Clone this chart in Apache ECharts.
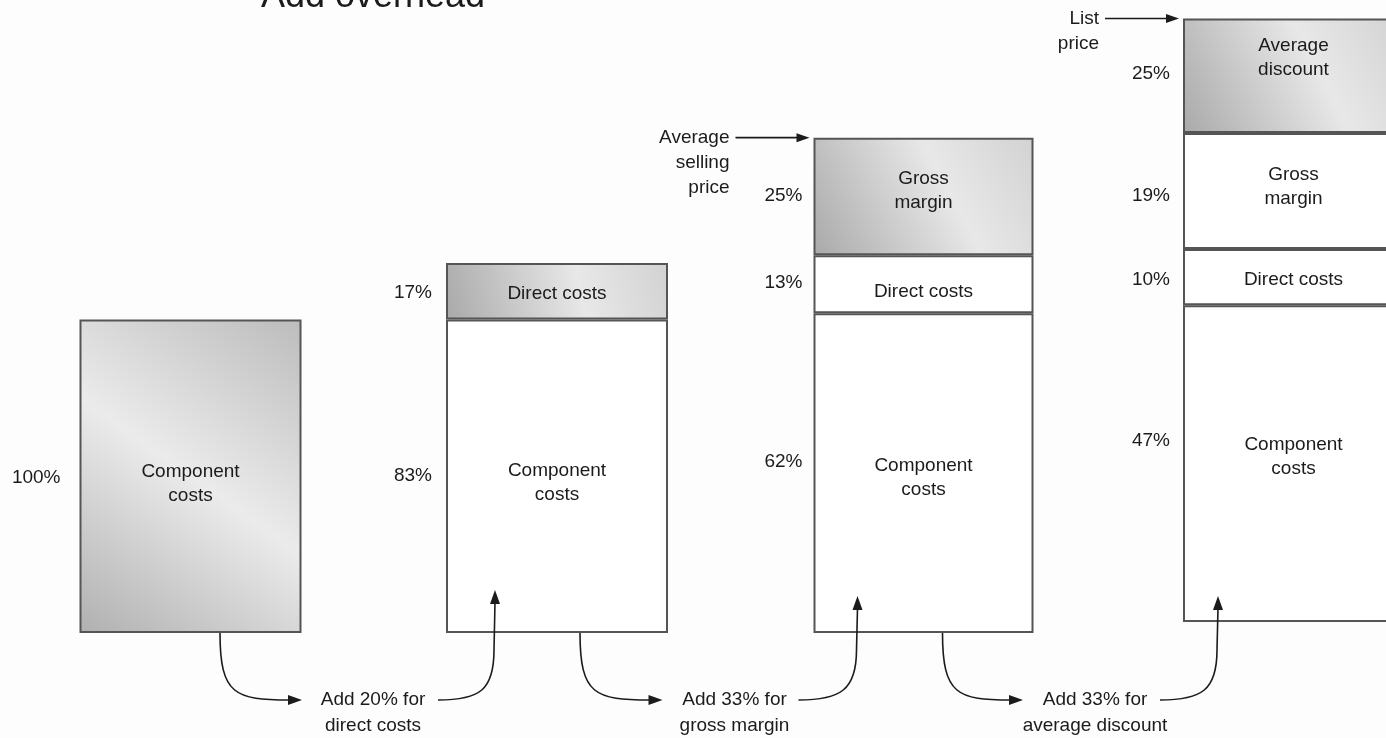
<!DOCTYPE html>
<html>
<head>
<meta charset="utf-8">
<script src="https://cdn.jsdelivr.net/npm/echarts@6/dist/echarts.min.js"></script>
<style>
  html, body { margin: 0; padding: 0; background: #fdfdfd; }
  #chart { width: 1386px; height: 738px; }
</style>
</head>
<body>
<div id="chart"></div>
<script>
// Price build-up, one stacked bar per stage
const stages = ['Component costs', 'Plus direct costs', 'Average selling price', 'List price'];

// Segment heights per stage (component costs of the first stage = 100)
const componentCosts = [100, 100, 102, 101];
const directCosts = [0, 18, 18.5, 18];
const grossMargin = [0, 0, 37.5, 37];
const averageDiscount = [0, 0, 0, 36.5];

// Share of the stage total printed beside each segment
const componentShare = ['100%', '83%', '62%', '47%'];
const directShare = ['', '17%', '13%', '10%'];
const marginShare = ['', '', '25%', '19%'];
const discountShare = ['', '', '', '25%'];

// Notes on the steps between stages
const stepNotes = ['Add 20% for\ndirect costs', 'Add 33% for\ngross margin', 'Add 33% for\naverage discount'];
const priceMarks = ['', '', 'Average\nselling\nprice', 'List\nprice'];
const titleText = 'Add overhead';

// ---------- layout & style ----------
const FONT = '"Liberation Sans", Arial, Helvetica, sans-serif';
const INK = '#1b1b1b';
const EDGE = '#555555';
const UNIT_MAX = 195;
const PX_PER_UNIT = 3.135;

// bar frame: left edge, width, baseline, gap to the share label
const frames = [
  { left: 79.5, width: 222, base: 633, gap: 19 },
  { left: 446, width: 222, base: 633, gap: 14 },
  { left: 813.5, width: 220, base: 633, gap: 11 },
  { left: 1183, width: 221, base: 622, gap: 13 }
];

const layers = [
  { name: 'Component costs', text: 'Component\ncosts', values: componentCosts, shares: componentShare },
  { name: 'Direct costs', text: 'Direct costs', values: directCosts, shares: directShare },
  { name: 'Gross margin', text: 'Gross\nmargin', values: grossMargin, shares: marginShare },
  { name: 'Average discount', text: 'Average\ndiscount', values: averageDiscount, shares: discountShare }
];

// vertical nudges for labels, [layer][stage]
const insideDy = [[8, 7, 5, -7], [0, 2, 8, 3], [0, 0, -6, -4], [0, 0, 0, -18]];
const shareDy = [[2, 0, -11, -23], [0, 1, -1, 3], [0, 0, -1, 5], [0, 0, 0, -2]];

function shade(tall) {
  return tall
    ? new echarts.graphic.LinearGradient(1, 0, 0, 1, [
        { offset: 0, color: '#bcbcbc' },
        { offset: 0.5, color: '#ebebeb' },
        { offset: 1, color: '#b0b0b0' }
      ])
    : new echarts.graphic.LinearGradient(0, 1, 1, 0, [
        { offset: 0, color: '#a9a9a9' },
        { offset: 0.6, color: '#e8e8e8' },
        { offset: 1, color: '#d2d2d2' }
      ]);
}

const grid = [], xAxis = [], yAxis = [], series = [];
frames.forEach((f, s) => {
  grid.push({
    left: f.left, width: f.width, bottom: 738 - f.base, height: UNIT_MAX * PX_PER_UNIT,
    outerBoundsMode: 'none', containLabel: false
  });
  xAxis.push({ gridIndex: s, type: 'category', data: [stages[s]], show: false });
  yAxis.push({ gridIndex: s, type: 'value', min: 0, max: UNIT_MAX, show: false });

  const present = layers.map((l, k) => k).filter(k => layers[k].values[s] > 0);
  const topLayer = present[present.length - 1];
  present.forEach(k => {
    const L = layers[k];
    series.push({
      type: 'bar', name: L.name, xAxisIndex: s, yAxisIndex: s, stack: 'cost' + s,
      barWidth: '100%', barGap: '-100%', silent: true,
      data: [L.values[s]],
      itemStyle: {
        color: k === topLayer ? shade(s === 0) : '#ffffff',
        borderColor: EDGE, borderWidth: 2
      },
      label: {
        show: true, position: 'inside', formatter: L.text, offset: [0, insideDy[k][s]],
        color: INK, fontFamily: FONT, fontSize: 19, lineHeight: 24
      }
    });
    series.push({
      type: 'bar', xAxisIndex: s, yAxisIndex: s, stack: 'share' + s,
      barWidth: '100%', barGap: '-100%', silent: true, z: 1,
      data: [L.values[s]],
      itemStyle: { color: 'rgba(0,0,0,0)' },
      label: {
        show: true, position: 'left', distance: f.gap, formatter: L.shares[s],
        offset: [0, shareDy[k][s]], color: INK, fontFamily: FONT, fontSize: 19
      }
    });
  });
});

const chart = echarts.init(document.getElementById('chart'));
chart.setOption({
  backgroundColor: '#fdfdfd',
  animation: false,
  grid, xAxis, yAxis, series
});

// ---------- annotations: title, price marks, step arrows ----------
const totals = stages.map((_, s) => layers.reduce((a, L) => a + L.values[s], 0));
const topY = s => chart.convertToPixel({ gridIndex: s }, [0, totals[s]])[1];
const baseY = s => chart.convertToPixel({ gridIndex: s }, [0, 0])[1];

const Z = 20;
const txt = (x, y, text, align, extra) => ({
  type: 'text', x, y, z: Z, silent: true,
  style: Object.assign({
    text, fill: INK, fontFamily: FONT, fontSize: 19, lineHeight: 25,
    align, textAlign: align, verticalAlign: 'top', textVerticalAlign: 'top'
  }, extra || {})
});
const stroke = { stroke: INK, lineWidth: 1.6, fill: null };
const head = (pts) => ({ type: 'polygon', z: Z, silent: true, shape: { points: pts }, style: { fill: INK } });

const elements = [];

elements.push(txt(373, -2.5, titleText, 'center', { fontSize: 36, verticalAlign: 'middle', textVerticalAlign: 'middle' }));

// price marks pointing at the top of a stage
priceMarks.forEach((m, s) => {
  if (!m) return;
  const y = topY(s);
  const left = frames[s].left;
  elements.push(txt(left - 84, y - 12.5, m, 'right'));
  elements.push({ type: 'line', z: Z, silent: true, shape: { x1: left - 78, y1: y, x2: left - 16, y2: y }, style: stroke });
  elements.push(head([[left - 4, y], [left - 17, y - 4.5], [left - 17, y + 4.5]]));
});

// step arrows between stages
const steps = [
  { from: 140.5, tip1: -144, note: -73, out: -8, tip2: 49, tipY: 590 },
  { from: 134, tip1: -151, note: -79, out: -15, tip2: 44, tipY: 596 },
  { from: 129, tip1: -160, note: -88, out: -23, tip2: 35, tipY: 596 }
];
const rowY = 700;
steps.forEach((st, t) => {
  const a = frames[t], b = frames[t + 1];
  const sx = a.left + st.from, sy = baseY(t);
  const t1 = b.left + st.tip1;
  elements.push({
    type: 'bezierCurve', z: Z, silent: true,
    shape: { x1: sx, y1: sy, cpx1: sx, cpy1: rowY - 5, cpx2: sx + 15, cpy2: rowY, x2: t1 - 12, y2: rowY },
    style: stroke
  });
  elements.push(head([[t1, rowY], [t1 - 14, rowY - 5], [t1 - 14, rowY + 5]]));

  elements.push(txt(b.left + st.note, rowY - 13, stepNotes[t], 'center', { lineHeight: 26 }));

  const ox = b.left + st.out, tx = b.left + st.tip2;
  elements.push({
    type: 'bezierCurve', z: Z, silent: true,
    shape: { x1: ox, y1: rowY, cpx1: ox + 42, cpy1: rowY, cpx2: tx - 1, cpy2: rowY - 10, x2: tx - 1, y2: rowY - 50 },
    style: stroke
  });
  elements.push({ type: 'line', z: Z, silent: true, shape: { x1: tx - 1, y1: rowY - 50, x2: tx, y2: st.tipY + 12 }, style: stroke });
  elements.push(head([[tx, st.tipY], [tx - 5, st.tipY + 14], [tx + 5, st.tipY + 14]]));
});

chart.setOption({ graphic: { elements } });
</script>
</body>
</html>
